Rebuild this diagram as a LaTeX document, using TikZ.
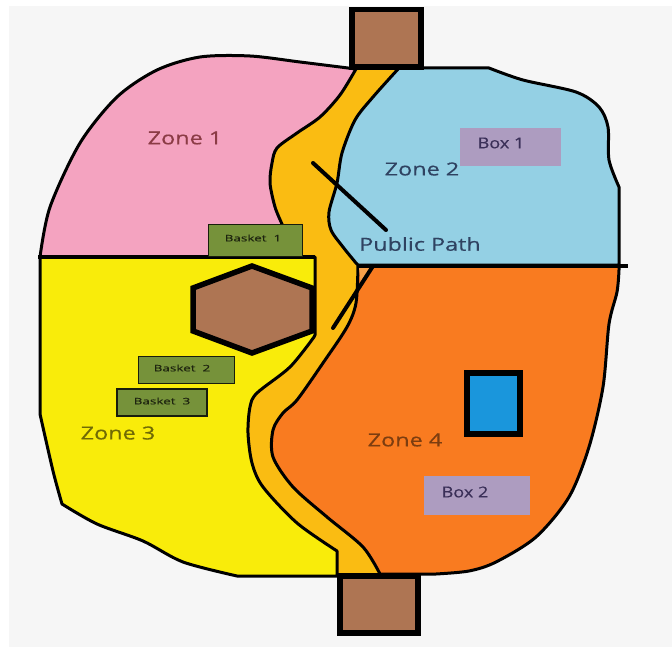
\documentclass[tikz,border=0pt]{standalone}
\usepackage{fontspec}
\setmainfont{Open Sans}
\newfontfamily\heavy[FakeBold=0.35]{Open Sans}
\definecolor{bggrey}{HTML}{F6F6F6}
\definecolor{zpink}{HTML}{F4A3C0}
\definecolor{zblue}{HTML}{94D0E4}
\definecolor{zyellow}{HTML}{F9EC0A}
\definecolor{zorange}{HTML}{F97B20}
\definecolor{zpath}{HTML}{FABC12}
\definecolor{zbrown}{HTML}{AE7553}
\definecolor{zgreen}{HTML}{76923A}
\definecolor{zlilac}{HTML}{AD9CC0}
\definecolor{zwater}{HTML}{1A96DC}
\definecolor{zpeach}{HTML}{F7A04A}
\definecolor{boxtext}{HTML}{3A2F58}
\tikzset{
  x=1pt,y=-1pt,
  zoneline/.style={draw=black,line width=3pt,line join=round},
  block/.style={draw=black,line width=5.5pt,fill=zbrown,line join=miter},
  pointer/.style={draw=black,line width=4pt,line cap=round},
  basket/.style={draw=black!80!zgreen,line width=1.6pt,fill=zgreen},
  boxarea/.style={fill=zlilac},
  zonelabel/.style={font=\heavy\fontsize{18}{18}\selectfont,xscale=1.3,transform shape,inner sep=0pt},
  basketlabel/.style={font=\heavy\fontsize{9}{9}\selectfont,text=black!75!zgreen,xscale=1.5,transform shape,inner sep=0pt},
  boxlabel/.style={font=\heavy\fontsize{15}{15}\selectfont,text=boxtext,xscale=1.2,transform shape,inner sep=0pt},
}
\begin{document}
\begin{tikzpicture}
\useasboundingbox (0,0) rectangle (672,647);
\fill[white] (0,0) rectangle (672,647);
\fill[bggrey] (9,6) rectangle (672,647);
% path underlay (its outer parts are covered by the zones)
\fill[zpath] (350,69) -- (405,69) -- (500,265) -- (400,575) -- (320,575) -- (200,500) -- (200,380) -- (270,260) -- (200,200) -- cycle;
% zones
\draw[zoneline,fill=zpink] plot[smooth] coordinates {(40,257)(50,207)(80,143)(117,97)(157,70)(200,57)(250,56)(300,62)(356,69)}
  -- plot[smooth] coordinates {(356,69)(340,95)(320,117)(297,133)(277,148)(272,163)(270,183)(275,207)(282,224)} -- (282,257) -- cycle;
\draw[zoneline,fill=zblue] (399,68) -- (489,68) -- plot[smooth] coordinates {(489,68)(523,80)(576,92)(599,107)(608,127)(609,160)(619,187)}
  -- (619,265) -- (358,265) -- plot[smooth] coordinates {(356,263)(343,247)(331,230)(329,212)(337,183)(342,153)(355,120)(373,97)(399,68)} -- cycle;
\draw[zoneline,fill=zorange] plot[smooth] coordinates {(358,266)(356,303)(347,327)(323,363)(297,400)(283,413)(273,430)(273,457)(293,487)(327,517)(363,547)(380,574)}
  -- (436,574) -- plot[smooth] coordinates {(436,574)(469,571)(496,562)(536,537)(569,497)(589,447)(603,387)(609,324)(617,292)(619,270)} -- (619,266) -- cycle;
\draw[zoneline,fill=zyellow] (40,257) -- (315,257) -- (315,335) -- plot[smooth] coordinates {(314,337)(290,367)(257,393)(250,407)(248,433)(252,463)(263,487)(297,523)(337,551)}
  -- (337,576) -- (237,576) -- plot[smooth] coordinates {(237,576)(183,562)(143,541)(97,524)(62,504)} -- plot[smooth] coordinates {(62,504)(53,471)(40,414)} -- cycle;
\fill[zpeach] (359,268) -- (372,268) -- (361,286) -- cycle;
% dividing lines
\coordinate (hl) at (38,257);
\coordinate (hm) at (315,257);
\coordinate (vl) at (358,266);
\coordinate (vr) at (628,266);
\draw[black,line width=4pt] (hl) -- (hm);
\draw[black,line width=4pt] (vl) -- (vr);
% entrance blocks
\draw[block] (352,9.5) rectangle (421,67);
\draw[block] (340,576) rectangle (418,633);
% hexagon
\draw[block] (252,266) -- (312,288) -- (312,331) -- (252,353) -- (193,331) -- (193,288) -- cycle;
% blue rectangle
\draw[block,fill=zwater] (467,373) rectangle (520,434);
% pointer lines
\coordinate (p1a) at (313,163);
\coordinate (p1b) at (386,230);
\coordinate (p2a) at (373,266);
\coordinate (p2b) at (333,328);
\draw[pointer] (p1a) -- (p1b);
\draw[pointer] (p2a) -- (p2b);
% baskets
\node[basket,minimum width=94pt,minimum height=32pt,inner sep=0pt] (b1) at (255.5,240.5) {};
\node[basket,minimum width=96pt,minimum height=27pt,inner sep=0pt] (b2) at (186.5,370) {};
\node[basket,minimum width=90pt,minimum height=27pt,inner sep=0pt] (b3) at (162,402.5) {};
\node[basketlabel] (t1) at (253,238) {Basket\ \ 1};
\node[basketlabel] (t2) at (182,368) {Basket\ \ 2};
\node[basketlabel] (t3) at (162,401) {Basket\ \ 3};
% boxes
\fill[boxarea] (460,128) rectangle (561,166);
\fill[boxarea] (424,476) rectangle (530,515);
\node[boxlabel] (bx1) at (501,143) {Box 1};
\node[boxlabel] (bx2) at (465,492) {Box 2};
% zone labels
\node[zonelabel,text=zpink!45!black!80!red] (z1) at (185,138) {Zone 1};
\node[zonelabel,text=zblue!35!black!90!blue] (z2) at (422,169) {Zone 2};
\node[zonelabel,text=zblue!35!black!90!blue] (pp) at (420,244) {Public Path};
\node[zonelabel,text=zyellow!45!black] (z3) at (118,433) {Zone 3};
\node[zonelabel,text=zorange!50!black] (z4) at (405,440) {Zone 4};
\end{tikzpicture}
\end{document}
